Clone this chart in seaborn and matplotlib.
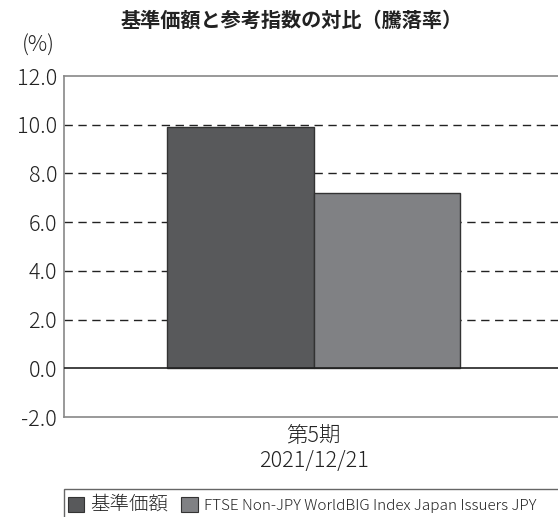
import matplotlib
matplotlib.use("Agg")
import matplotlib.pyplot as plt
import matplotlib.patches as mpatches
import seaborn as sns
import pandas as pd

# ---- data ----
title = "基準価額と参考指数の対比（騰落率）"
unit_label = "(%)"
period_labels = ["第5期\n2021/12/21"]
series_names = ["基準価額", "FTSE Non-JPY WorldBIG Index Japan Issuers JPY"]
series_values = [9.9, 7.2]
series_colors = ["#58595b", "#808184"]
y_ticks = [-2.0, 0.0, 2.0, 4.0, 6.0, 8.0, 10.0, 12.0]
y_tick_labels = ["-2.0", "0.0", "2.0", "4.0", "6.0", "8.0", "10.0", "12.0"]
grid_values = [2.0, 4.0, 6.0, 8.0, 10.0]

df = pd.DataFrame({
    "period": [period_labels[0]] * len(series_names),
    "series": series_names,
    "value": series_values,
})

sns.set_style("white")
plt.rcParams["font.family"] = ["Noto Sans CJK JP", "DejaVu Sans"]
plt.rcParams["axes.unicode_minus"] = False

W, H = 558, 517
fig = plt.figure(figsize=(W / 100, H / 100), dpi=100)
ax = fig.add_axes([64 / W, 1 - 417 / H, (W - 64) / W + 0.01, (417 - 76) / H])

# gridlines (dashed) behind bars
for g in grid_values:
    ax.axhline(g, color="#222222", linestyle=(0, (6, 4)), linewidth=1.0, zorder=0)

sns.barplot(data=df, x="period", y="value", hue="series", hue_order=series_names,
            palette=series_colors, width=0.587, edgecolor="#333333", linewidth=1.0,
            saturation=1, legend=False, ax=ax, zorder=2)

ax.axhline(0, color="#222222", linewidth=1.2, zorder=3)

ax.set_ylim(-2, 12)
ax.set_xlim(-0.5, 0.5)
ax.set_yticks(y_ticks)
ax.set_yticklabels(y_tick_labels, fontsize=15.5, color="#222222", fontweight="light")
ax.set_xticks([0])
ax.set_xticklabels(period_labels, fontsize=15.5, color="#222222", linespacing=1.15,
                   fontweight="light")
ax.tick_params(axis="y", length=0, pad=5)
ax.tick_params(axis="x", length=0, pad=6)
ax.set_xlabel("")
ax.set_ylabel("")

for side in ["left", "top", "bottom"]:
    ax.spines[side].set_color("#888888")
    ax.spines[side].set_linewidth(1.2)
    ax.spines[side].set_visible(True)
ax.spines["right"].set_visible(False)

fig.text(292 / W, 1 - 20 / H, title, ha="center", va="center",
         fontsize=14.5, fontweight="bold", color="#222222")
fig.text(38 / W, 1 - 46 / H, unit_label, ha="center", va="center",
         fontsize=15.5, color="#222222", fontweight="light")

# legend frame running off the right/bottom edge like the reference
frame = mpatches.Rectangle((63.5 / W, -10 / H), (W - 63.5 + 20) / W, (517 - 489 + 10) / H,
                           transform=fig.transFigure, facecolor="white",
                           edgecolor="#666666", linewidth=1.0, clip_on=False)
fig.patches.append(frame)

handles = [mpatches.Patch(facecolor=c, edgecolor="#333333", linewidth=0.8)
           for c in series_colors]
leg = fig.legend(handles, series_names, loc="upper left",
                 bbox_to_anchor=(63 / W, 1 - 489 / H), bbox_transform=fig.transFigure,
                 ncol=2, fontsize=11, frameon=False,
                 handlelength=1.1, handleheight=1.1, handletextpad=0.4,
                 columnspacing=0.85, borderpad=0.3, borderaxespad=0)
texts = leg.get_texts()
texts[0].set_fontsize(14)
for t in texts:
    t.set_color("#222222")
    t.set_fontweight("light")

fig.savefig("out.png", dpi=100)
